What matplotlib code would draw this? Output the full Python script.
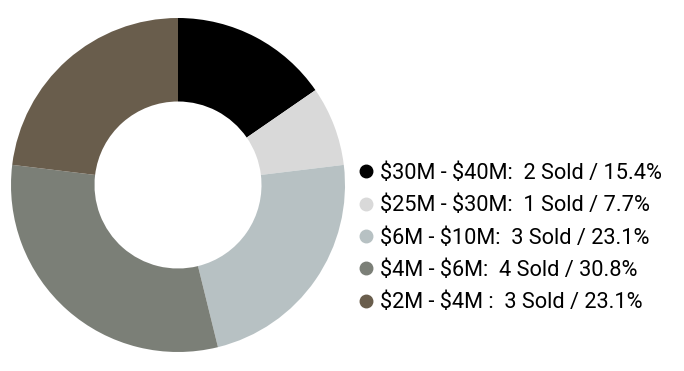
import matplotlib.pyplot as plt
from matplotlib.lines import Line2D

plt.rcParams['font.family'] = ['Roboto', 'DejaVu Sans']
plt.rcParams['text.parse_math'] = False

ranges = ["$30M - $40M:", "$25M - $30M:", "$6M - $10M:", "$4M - $6M:", "$2M - $4M :"]
sold = [2, 1, 3, 4, 3]
pcts = ["15.4%", "7.7%", "23.1%", "30.8%", "23.1%"]
colors = ["#000000", "#d9d9d9", "#b7c1c3", "#7b7f77", "#695d4c"]

fig = plt.figure(figsize=(6.84, 3.71), dpi=100)
ax = fig.add_axes([11 / 684, (371 - 352) / 371, 334 / 684, 334 / 371])
ax.pie(sold, colors=colors, startangle=90, counterclock=False,
       wedgeprops=dict(width=0.5, linewidth=0))
ax.set_xlim(-1, 1)
ax.set_ylim(-1, 1)
ax.set_aspect('equal')

labels = [f"{r}  {s} Sold / {p}" for r, s, p in zip(ranges, sold, pcts)]
handles = [Line2D([], [], marker='o', linestyle='', markersize=9, color=c) for c in colors]
fig.legend(handles, labels, loc='upper left', bbox_to_anchor=(355 / 684, 1 - 163 / 371),
           frameon=False, fontsize=15.7, handletextpad=0.15, labelspacing=0.52,
           handlelength=1.0, borderaxespad=0, borderpad=0)

fig.savefig("out.png", dpi=100)
